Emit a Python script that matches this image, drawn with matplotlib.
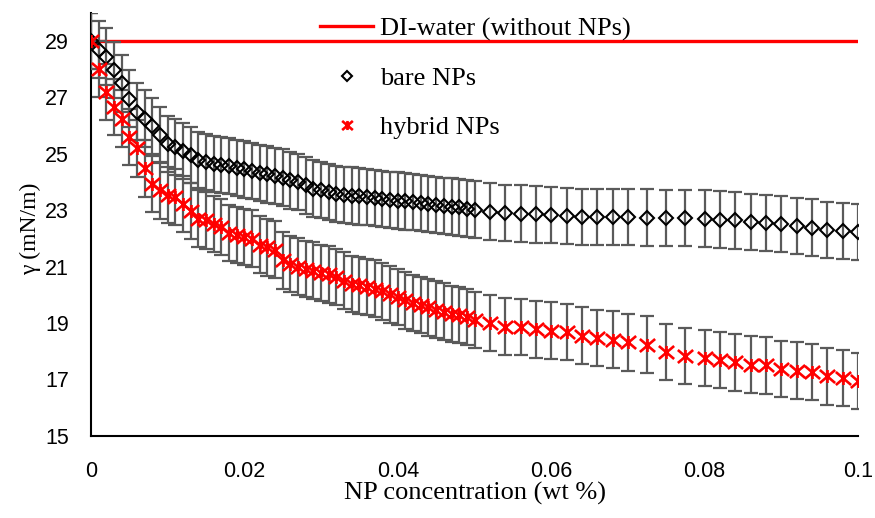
import matplotlib

matplotlib.use("Agg")
import matplotlib.pyplot as plt
from matplotlib.path import Path

RED, INK, BAR = "#ff0000", "#000000", "#5a5a5a"
SERIF = "Liberation Serif"
SANS = "Liberation Sans"

# NP concentration (wt %)
conc = [0.000, 0.001, 0.002, 0.003, 0.004, 0.005, 0.006, 0.007, 0.008, 0.009,
        0.010, 0.011, 0.012, 0.013, 0.014, 0.015, 0.016, 0.017, 0.018, 0.019,
        0.020, 0.021, 0.022, 0.023, 0.024, 0.025, 0.026, 0.027, 0.028, 0.029,
        0.030, 0.031, 0.032, 0.033, 0.034, 0.035, 0.036, 0.037, 0.038, 0.039,
        0.040, 0.041, 0.042, 0.043, 0.044, 0.045, 0.046, 0.047, 0.048, 0.049,
        0.050, 0.052, 0.054, 0.056, 0.058, 0.060, 0.062, 0.064, 0.066, 0.068,
        0.070, 0.0725, 0.075, 0.0775, 0.080, 0.082, 0.084, 0.086, 0.088, 0.090,
        0.092, 0.094, 0.096, 0.098, 0.100]

# surface tension, mN/m
bare = [29.0, 28.7, 28.45, 27.97, 27.5, 26.96, 26.5, 26.25, 25.98, 25.66,
        25.36, 25.24, 25.1, 24.95, 24.78, 24.7, 24.65, 24.6, 24.57, 24.5,
        24.45, 24.39, 24.33, 24.27, 24.21, 24.16, 24.06, 24.0, 23.88, 23.77,
        23.71, 23.64, 23.58, 23.54, 23.52, 23.49, 23.46, 23.43, 23.40, 23.37,
        23.34, 23.31, 23.28, 23.25, 23.22, 23.19, 23.16, 23.13, 23.10, 23.06,
        23.02, 22.95, 22.9, 22.88, 22.85, 22.84, 22.8, 22.77, 22.76, 22.76,
        22.76, 22.74, 22.73, 22.73, 22.7, 22.67, 22.64, 22.58, 22.54, 22.5,
        22.43, 22.38, 22.3, 22.26, 22.22]

hybrid = [29.0, 28.0, 27.2, 26.67, 26.25, 25.6, 25.19, 24.48, 23.94, 23.7,
          23.53, 23.47, 23.23, 22.97, 22.7, 22.64, 22.5, 22.4, 22.2, 22.11,
          22.05, 21.99, 21.78, 21.68, 21.6, 21.22, 21.1, 21.0, 20.92, 20.86,
          20.77, 20.72, 20.62, 20.5, 20.39, 20.33, 20.27, 20.22, 20.12, 20.01,
          19.91, 19.8, 19.7, 19.63, 19.55, 19.47, 19.4, 19.32, 19.27, 19.2,
          19.1, 19.0, 18.87, 18.85, 18.77, 18.73, 18.67, 18.55, 18.47, 18.41,
          18.31, 18.23, 17.96, 17.82, 17.76, 17.69, 17.6, 17.52, 17.49, 17.37,
          17.31, 17.25, 17.1, 17.05, 16.95]

bare_err = [1.0] * len(conc)
hybrid_err = [1.0] * len(conc)

water_x = [0.0, 0.1]
water_y = [29.0, 29.0]

x_ticks = [0, 0.02, 0.04, 0.06, 0.08, 0.1]
x_labels = ["0", "0.02", "0.04", "0.06", "0.08", "0.1"]
y_ticks = [15, 17, 19, 21, 23, 25, 27, 29]

# excel style star: an X with a vertical bar through it
STAR = Path([(-1, -0.85), (1, 0.85), (-1, 0.85), (1, -0.85), (0, -0.85), (0, 0.85)],
            [Path.MOVETO, Path.LINETO, Path.MOVETO, Path.LINETO, Path.MOVETO, Path.LINETO])

fig = plt.figure(figsize=(8.75, 5.18), dpi=100)
ax = fig.add_axes([0.104, 0.159, 0.8766, 0.816])

water, = ax.plot(water_x, water_y, color=RED, linewidth=2.4, zorder=2)
ax.errorbar(conc, bare, yerr=bare_err, fmt="none", ecolor=BAR,
            elinewidth=1.6, capsize=4.7, capthick=1.6, zorder=3)
ax.errorbar(conc, hybrid, yerr=hybrid_err, fmt="none", ecolor=BAR,
            elinewidth=1.6, capsize=4.7, capthick=1.6, zorder=3)
p1, = ax.plot(conc, bare, linestyle="none", marker="D", markersize=6.8,
              markerfacecolor="none", markeredgecolor=INK, markeredgewidth=1.5, zorder=4)
p2, = ax.plot(conc, hybrid, linestyle="none", marker=STAR, markersize=11,
              markeredgecolor=RED, markeredgewidth=1.9, zorder=5)

ax.set_xlim(0, 0.1)
ax.set_ylim(15, 30)
ax.set_xticks(x_ticks, x_labels)
ax.set_yticks(y_ticks)
ax.tick_params(length=0, labelsize=15.5)
ax.tick_params(axis="x", pad=18)
ax.tick_params(axis="y", pad=16)
for lab in ax.get_xticklabels() + ax.get_yticklabels():
    lab.set_fontfamily(SANS)
ax.spines[["top", "right"]].set_visible(False)
ax.spines[["left", "bottom"]].set_linewidth(1.5)

ax.set_xlabel("NP concentration (wt %)", fontfamily=SERIF, fontsize=19, labelpad=0.5)
ax.set_ylabel("γ (mN/m)", fontfamily=SERIF, fontsize=17, labelpad=3)
ax.yaxis.label.set_y(0.49)

fig.legend([water, p1, p2], ["DI-water (without NPs)", "bare NPs", "hybrid NPs"],
           loc="upper left", bbox_to_anchor=(0.351, 0.993), frameon=False,
           prop={"family": SERIF, "size": 19}, handlelength=2.0,
           handletextpad=0.25, labelspacing=0.98, borderpad=0, markerscale=0.7)

fig.savefig("out.png", dpi=100)
